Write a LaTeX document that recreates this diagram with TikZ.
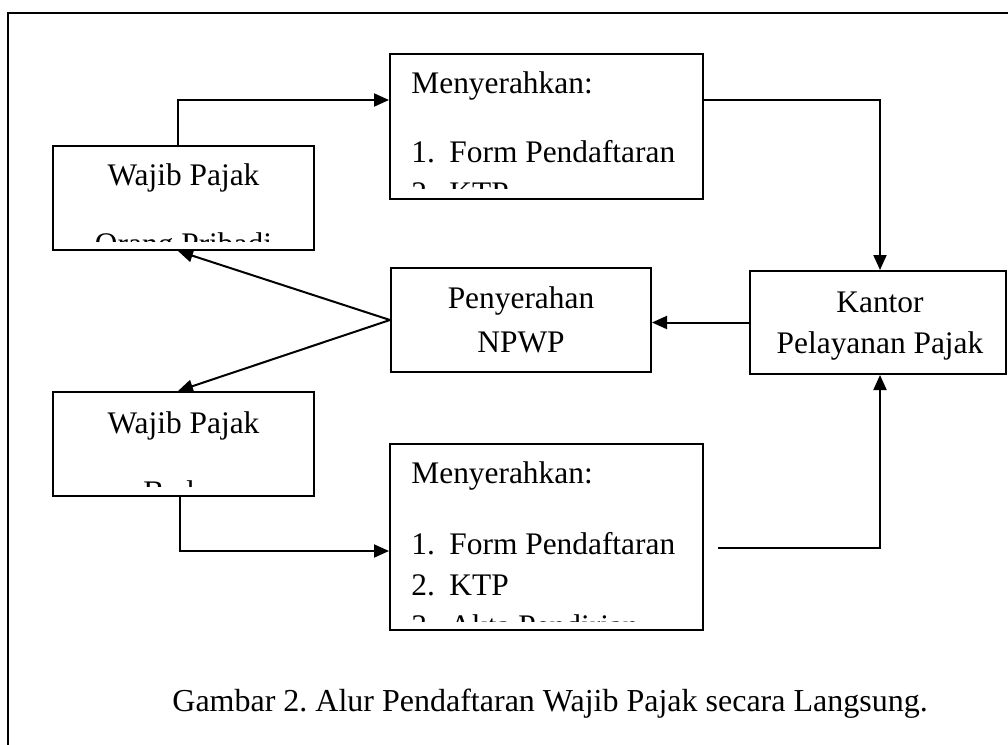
\documentclass[tikz,border=0pt]{standalone}
\usepackage{fontspec}
\setmainfont{Liberation Serif}
\usetikzlibrary{arrows.meta,fit}

\tikzset{
  box/.style={draw, line width=1pt, inner sep=0pt, rectangle},
  txt/.style={font=\fontsize{15.7pt}{18pt}\selectfont, inner sep=0pt, anchor=base},
  txtl/.style={txt, anchor=base west},
  link/.style={line width=1pt},
  arr/.style={link, -{Triangle[length=7.5pt,width=6.5pt]}},
}

\begin{document}
\frenchspacing
\begin{tikzpicture}[x=0.5pt, y=-0.5pt]
\useasboundingbox (0,0) rectangle (1008,745);

% page frame
\draw[line width=0.7pt] (1008,13) -- (8,13) -- (8,745);

% boxes
\node[box, fit={(53,146) (314,250)}] (wpop) {};
\node[box, fit={(390,54) (703,199)}] (mk1) {};
\node[box, fit={(391,268) (651,372)}] (npwp) {};
\node[box, fit={(750,271) (1006,374)}] (kpp) {};
\node[box, fit={(53,392) (314,496)}] (wpbadan) {};
\node[box, fit={(390,444) (703,630)}] (mk2) {};

% box texts (clipped to the inner area of each box)
\begin{scope}
  \clip (54,147) rectangle (313,241);
  \node[txt] (t1) at (183.5,185) {Wajib Pajak};
  \node[txt] (t2) at (183.5,254) {Orang Pribadi};
\end{scope}
\begin{scope}
  \clip (391,55) rectangle (702,188);
  \node[txtl] (t3) at (411,93) {Menyerahkan:};
  \node[txtl] (t4) at (411,162) {1.};
  \node[txtl] (t5) at (449,162) {Form Pendaftaran};
  \node[txtl] (t6) at (411,203) {2.};
  \node[txtl] (t7) at (449,203) {KTP};
\end{scope}
\node[txt] (t8) at (521,308) {Penyerahan};
\node[txt] (t9) at (521,352) {NPWP};
\node[txt] (t10) at (880,312) {Kantor};
\node[txt] (t11) at (880,353) {Pelayanan Pajak};
\begin{scope}
  \clip (54,393) rectangle (313,486);
  \node[txt] (t12) at (183.5,433) {Wajib Pajak};
  \node[txt] (t13) at (183.5,502) {Badan};
\end{scope}
\begin{scope}
  \clip (391,445) rectangle (702,621);
  \node[txtl] (t14) at (411,483) {Menyerahkan:};
  \node[txtl] (t15) at (411,554) {1.};
  \node[txtl] (t16) at (449,554) {Form Pendaftaran};
  \node[txtl] (t17) at (411,595) {2.};
  \node[txtl] (t18) at (449,595) {KTP};
  \node[txtl] (t19) at (411,636) {3.};
  \node[txtl] (t20) at (449,636) {Akta Pendirian};
\end{scope}

% caption
\node[txtl, font=\fontsize{16pt}{19pt}\selectfont] (cap) at (172,711)
  {Gambar 2. Alur Pendaftaran Wajib Pajak secara Langsung.};

% routing points
\coordinate (p1) at (178,100);
\coordinate (p2) at (880,100);
\coordinate (p3) at (180,551);
\coordinate (p4) at (718,548);
\coordinate (p5) at (880,548);

% connectors
\draw[arr] (wpop.north -| p1) -- (p1) -- (p1 -| mk1.west);
\draw[arr] (mk1.east |- p2) -- (p2) -- (p2 |- kpp.north);
\draw[arr] (kpp.west) -- (kpp.west -| npwp.east);
\draw[arr] (npwp.west) -- (wpop.south -| p1);
\draw[arr] (npwp.west) -- (wpbadan.north -| p1);
\draw[arr] (wpbadan.south -| p3) -- (p3) -- (p3 -| mk2.west);
\draw[arr] (p4) -- (p5) -- (p5 |- kpp.south);
\end{tikzpicture}
\end{document}
